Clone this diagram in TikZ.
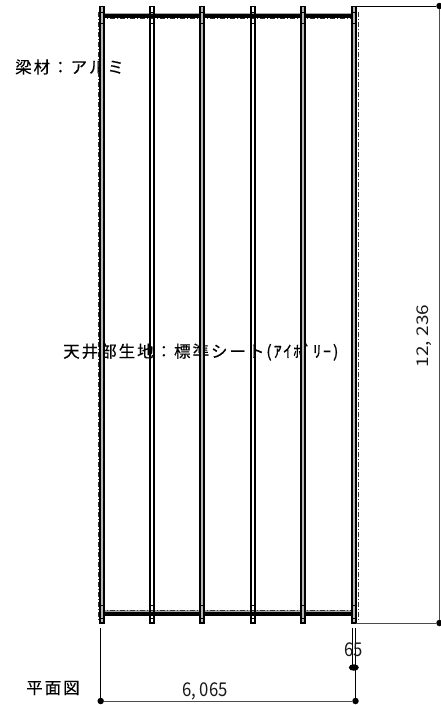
\documentclass[tikz,border=0pt]{standalone}
\usepackage{fontspec}
\setmainfont{Noto Sans CJK JP}
\usetikzlibrary{calc,shapes.geometric}
\newfontfamily\spaced[LetterSpace=12,FakeBold=0.25]{Noto Sans CJK JP}
\newfontfamily\spacedhalf[LetterSpace=10,FakeBold=0.25]{Noto Sans CJK JP}
\tikzset{
  beamwhite/.style={draw=black,line width=1.2pt},
  beamgray/.style={draw=black,line width=1.2pt,fill=gray!55},
  rail/.style={line width=3.6pt,black,line cap=butt},
  railgray/.style={line width=1.2pt,gray!70},
  dashrail/.style={line width=.9pt,black!80,dash pattern=on 5pt off 2pt on 1pt off 2pt},
  dim/.style={line width=.9pt,black},
  dimgray/.style={line width=1pt,black!70},
  dot/.style={circle,fill=black,inner sep=0pt,minimum size=6.5pt},
  lbl/.style={inner sep=0pt,font=\spaced\fontsize{16.5}{16.5}\selectfont,text=black},
  num/.style={inner sep=0pt,text=black!90}
}
\newcommand{\hnum}[1]{\scalebox{.88}[1]{\fontsize{19}{19}\selectfont #1}}
\newcommand{\vnum}[1]{\scalebox{1}[.85]{\fontsize{19}{19}\selectfont #1}}
\begin{document}
\begin{tikzpicture}[x=1pt,y=-1pt]
\useasboundingbox (0,0) rectangle (441,705);
\fill[white] (0,0) rectangle (441,705);
% labels under the frame
\node[lbl,anchor=west] (beamlabel) at (15,67) {梁材：アルミ};
\node[lbl,anchor=west] (sheetlabel) at (63,352) {天井部生地：標準シート{\spacedhalf\fontsize{16.5}{16.5}\selectfont\makebox[9pt]{(}ｱｲﾎﾞﾘｰ\makebox[9pt]{)}}};
% rails
\foreach \y/\g/\d in {15.8/13.6/18.6,614/611/610.3}{
  \draw[railgray] (102,\g) -- (354,\g);
  \draw[dashrail] (100,\d) -- (356,\d);
  \draw[rail] (100,\y) -- (354,\y);
}
% side dash-dot
\draw[dashrail] (98.5,12) -- (98.5,620);
\draw[dashrail] (358,12) -- (358,620);
% beams
\foreach \x in {152,253}{
  \draw[beamwhite] (\x-2,6.5) rectangle (\x+2,623);
}
\foreach \x in {102,202,303,354}{
  \draw[beamgray] (\x-2,6.5) rectangle (\x+2,623);
}
\foreach \x in {102,152,202,253,303,354}{
  \draw[line width=.9pt] (\x-2.5,12) -- (\x+2.5,12) (\x-2.5,23) -- (\x+2.5,23) (\x-2.5,605) -- (\x+2.5,605) (\x-2.5,618) -- (\x+2.5,618);
}
% dimensions
\node[dot] (tr) at (439.5,6) {};
\node[dot] (br) at (439.5,623) {};
\node[dot] (bl) at (100.7,701) {};
\node[dot] (brb) at (355.5,701) {};
\node[ellipse,fill=black,minimum width=10pt,minimum height=6.5pt,inner sep=0pt] (d65) at (353.8,667.5) {};
\coordinate (t1) at (356,6);
\coordinate (t2) at (356,623);
\coordinate (s1) at (100.7,628);
\coordinate (s2) at (352.3,628);
\coordinate (s3) at (355.5,628);
\coordinate (s4) at (352.3,667.5);
\draw[dim] (t1) -- (tr);
\draw[dimgray] (t2) -- (br);
\draw[dimgray] (tr) -- (br);
\draw[dim] (s1) -- (bl);
\draw[dimgray] (bl) -- (brb);
\draw[dim] (s3) -- (brb);
\draw[dim] (s2) -- (s4);
\node[num] (w) at (205,691) {\hnum{6, 065}};
\node[num,rotate=90] (h) at (424,336) {\vnum{12, 236}};
\node[num] (sm) at (353.5,650) {\hnum{65}};
\node[lbl,anchor=west] (plan) at (26,688) {平面図};
\end{tikzpicture}
\end{document}
